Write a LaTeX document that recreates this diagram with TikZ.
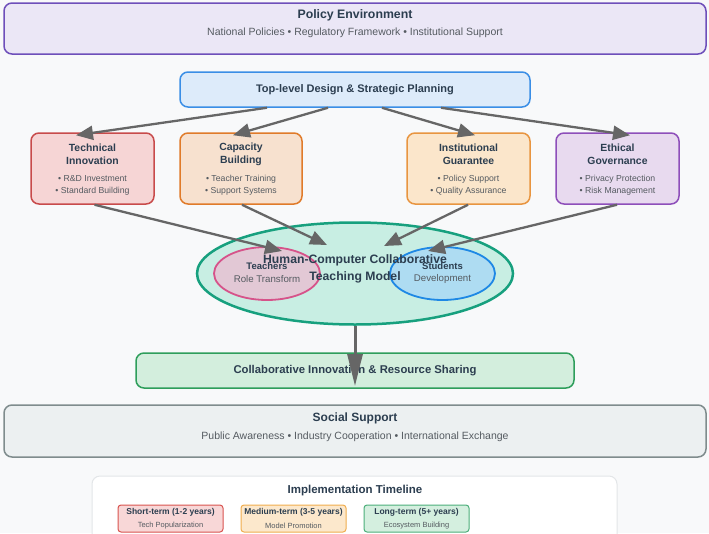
\documentclass[tikz,border=0pt]{standalone}
\usepackage{fontspec}
\setmainfont{Liberation Sans}
\usetikzlibrary{arrows.meta,shapes.geometric,calc}
\definecolor{bg}{HTML}{F8F9FA}
\definecolor{dark}{HTML}{2C3E50}
\definecolor{sub}{HTML}{555B61}
\definecolor{arr}{HTML}{666666}
\definecolor{polB}{HTML}{6E4FBA}\definecolor{polF}{HTML}{EBE7F6}
\definecolor{topB}{HTML}{3A8EE6}\definecolor{topF}{HTML}{DDEBFA}
\definecolor{redB}{HTML}{C84B4B}\definecolor{redF}{HTML}{F6D5D5}
\definecolor{oraB}{HTML}{E07B2A}\definecolor{oraF}{HTML}{F7E1CF}
\definecolor{yelB}{HTML}{E89540}\definecolor{yelF}{HTML}{FBE6CB}
\definecolor{purB}{HTML}{8E4FBA}\definecolor{purF}{HTML}{E8DAEF}
\definecolor{grnB}{HTML}{17A07E}\definecolor{grnF}{HTML}{C8EEE3}
\definecolor{pinkB}{HTML}{D6538A}\definecolor{pinkF}{HTML}{E2C8D5}
\definecolor{bluB}{HTML}{1E88E5}\definecolor{bluF}{HTML}{AEDCF2}
\definecolor{colB}{HTML}{2E9E5B}\definecolor{colF}{HTML}{D3EEDD}
\definecolor{socB}{HTML}{7F8C8D}\definecolor{socF}{HTML}{ECF0F1}
\definecolor{tlB}{HTML}{E3E6E8}
\definecolor{sB}{HTML}{D9534F}\definecolor{sF}{HTML}{F8D7D7}
\definecolor{mB}{HTML}{F0AD4E}\definecolor{mF}{HTML}{FCE8CC}
\definecolor{lB}{HTML}{4CAF7A}\definecolor{lF}{HTML}{D4EFDF}
\tikzset{
  box/.style={draw, rounded corners=8pt, line width=1.5pt, inner sep=0pt},
  ell/.style={draw, ellipse, inner sep=0pt},
  ttl/.style={font=\bfseries\fontsize{10.4}{13}\selectfont, text=dark, align=center, inner sep=0pt},
  big/.style={font=\bfseries\fontsize{12.3}{16}\selectfont, text=dark, align=center, inner sep=0pt},
  small/.style={font=\fontsize{8.7}{12}\selectfont, text=sub, align=center, inner sep=0pt},
  subt/.style={font=\fontsize{10.5}{13}\selectfont, text=sub, align=center, inner sep=0pt},
  conn/.style={draw=arr, line width=2.3pt, -{Triangle[length=17pt,width=14pt]}},
  vconn/.style={draw=arr, line width=3pt, -{Triangle[length=32pt,width=15pt]}},
}
\begin{document}
\begin{tikzpicture}[x=1pt,y=-1pt]
\useasboundingbox[fill=bg] (0,0) rectangle (709,533);
\clip (0,0) rectangle (709,533);
% policy
\node[box, draw=polB, fill=polF, minimum width=702pt, minimum height=51pt] (pol) at (355,28.5) {};
\node[big] (polT) at (355,15) {Policy Environment};
\node[subt] (polS) at (355,33) {National Policies • Regulatory Framework • Institutional Support};
% top
\node[box, draw=topB, fill=topF, minimum width=350pt, minimum height=35pt, ttl, font=\bfseries\fontsize{11}{13}\selectfont] (top) at (355,89.5) {Top-level Design \& Strategic Planning};
% four boxes
\node[box, draw=redB, fill=redF, minimum width=123pt, minimum height=71pt] (tech) at (92.5,168.5) {};
\node[box, draw=oraB, fill=oraF, minimum width=122pt, minimum height=71pt] (cap) at (241,168.5) {};
\node[box, draw=yelB, fill=yelF, minimum width=123pt, minimum height=71pt] (inst) at (468.5,168.5) {};
\node[box, draw=purB, fill=purF, minimum width=123pt, minimum height=71pt] (eth) at (617.5,168.5) {};
\node[ttl] (techT) at (92.5,154) {Technical\\Innovation};
\node[small] (techS) at (92.5,185) {• R\&D Investment\\• Standard Building};
\node[ttl] (capT) at (241,154) {Capacity\\Building};
\node[small] (capS) at (241,185) {• Teacher Training\\• Support Systems};
\node[ttl] (instT) at (468.5,154) {Institutional\\Guarantee};
\node[small] (instS) at (468.5,185) {• Policy Support\\• Quality Assurance};
\node[ttl] (ethT) at (617.5,154) {Ethical\\Governance};
\node[small] (ethS) at (617.5,185) {• Privacy Protection\\• Risk Management};
% arrows top -> boxes
\draw[conn] ([xshift=-88pt]top.south) -- ([xshift=-16.5pt,yshift=-3pt]tech.north);
\draw[conn] ([xshift=-27pt]top.south) -- ([xshift=-8pt,yshift=-3pt]cap.north);
\draw[conn] ([xshift=27pt]top.south) -- ([xshift=6.5pt,yshift=-3pt]inst.north);
\draw[conn] ([xshift=86pt]top.south) -- ([xshift=12.5pt,yshift=-3pt]eth.north);
% model
\node[ell, draw=grnB, fill=grnF, line width=2.5pt, minimum width=316pt, minimum height=102pt] (model) at (355,273.5) {};
\node[ell, draw=pinkB, fill=pinkF, line width=1.8pt, minimum width=106pt, minimum height=53pt] (teach) at (267,273.5) {};
\node[ell, draw=bluB, fill=bluF, line width=1.8pt, minimum width=105pt, minimum height=53pt] (stud) at (442.5,273.5) {};
\node[font=\bfseries\fontsize{9.5}{12}\selectfont, text=dark, inner sep=0pt] (teachT) at (267,266) {Teachers};
\node[subt, font=\fontsize{9.7}{12}\selectfont] (teachS) at (267,279) {Role Transform};
\node[font=\bfseries\fontsize{9.5}{12}\selectfont, text=dark, inner sep=0pt] (studT) at (442.5,266) {Students};
\node[subt, font=\fontsize{9.7}{12}\selectfont] (studS) at (442.5,279) {Development};
\node[big, font=\bfseries\fontsize{12.2}{17}\selectfont] (modelT) at (355,269) {Human-Computer Collaborative\\Teaching Model};
% arrows into model
\draw[conn] ([xshift=2pt]tech.south) -- ([xshift=-73pt,yshift=22.5pt]model.center);
\draw[conn] ([xshift=1pt]cap.south) -- ([xshift=-28pt,yshift=28.5pt]model.center);
\draw[conn] ([xshift=-0.5pt]inst.south) -- ([xshift=29pt,yshift=27.5pt]model.center);
\draw[conn] ([xshift=-0.5pt]eth.south) -- ([xshift=73pt,yshift=22.5pt]model.center);
% collab
\node[box, draw=colB, fill=colF, minimum width=438pt, minimum height=35pt, ttl, font=\bfseries\fontsize{11.3}{13}\selectfont] (col) at (355,370.5) {Collaborative Innovation \& Resource Sharing};
\draw[vconn] (model.south) -- ([yshift=-15.5pt]col.center);
% social
\node[box, draw=socB, fill=socF, minimum width=702pt, minimum height=52pt] (soc) at (355,431) {};
\node[big, font=\bfseries\fontsize{12}{16}\selectfont] (socT) at (355,418) {Social Support};
\node[subt] (socS) at (355,437) {Public Awareness • Industry Cooperation • International Exchange};
% timeline
\node[draw=tlB, fill=white, rounded corners=8pt, line width=1pt, minimum width=525pt, minimum height=80pt, inner sep=0pt] (tl) at (354.5,516) {};
\node[ttl, font=\bfseries\fontsize{11.5}{13}\selectfont] (tlT) at (355,491) {Implementation Timeline};
\node[draw=sB, fill=sF, rounded corners=3pt, line width=1pt, minimum width=105pt, minimum height=27pt, inner sep=0pt] (st) at (170.5,518.5) {};
\node[draw=mB, fill=mF, rounded corners=3pt, line width=1pt, minimum width=105pt, minimum height=27pt, inner sep=0pt] (mt) at (293.5,518.5) {};
\node[draw=lB, fill=lF, rounded corners=3pt, line width=1pt, minimum width=105pt, minimum height=27pt, inner sep=0pt] (lt) at (416.5,518.5) {};
\node[font=\bfseries\fontsize{8.5}{10}\selectfont, text=dark, inner sep=0pt] (stT) at (170.5,512) {Short-term (1-2 years)};
\node[font=\fontsize{7.5}{9}\selectfont, text=sub, inner sep=0pt] (stS) at (170.5,526) {Tech Popularization};
\node[font=\bfseries\fontsize{8.5}{10}\selectfont, text=dark, inner sep=0pt] (mtT) at (293.5,512) {Medium-term (3-5 years)};
\node[font=\fontsize{7.5}{9}\selectfont, text=sub, inner sep=0pt] (mtS) at (293.5,526) {Model Promotion};
\node[font=\bfseries\fontsize{8.5}{10}\selectfont, text=dark, inner sep=0pt] (ltT) at (416.5,512) {Long-term (5+ years)};
\node[font=\fontsize{7.5}{9}\selectfont, text=sub, inner sep=0pt] (ltS) at (416.5,526) {Ecosystem Building};
\end{tikzpicture}
\end{document}
